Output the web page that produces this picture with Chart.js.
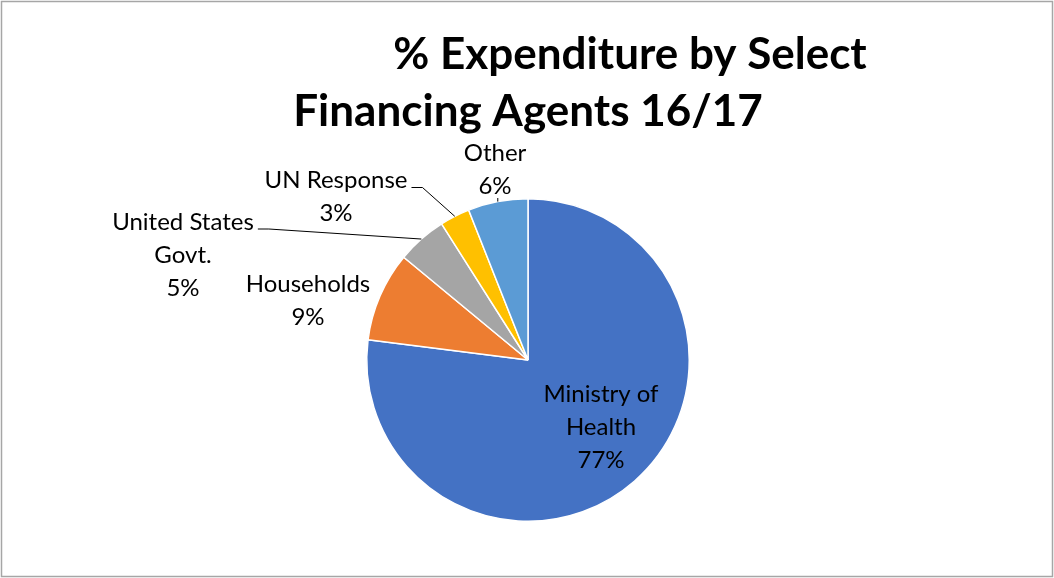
<!DOCTYPE html>
<html>
<head>
<meta charset="utf-8">
<script src="https://cdn.jsdelivr.net/npm/chart.js@4.4.1/dist/chart.umd.min.js"></script>
<style>
html,body{margin:0;padding:0;background:#fff;}
#wrap{width:1054px;height:578px;position:relative;}
</style>
</head>
<body>
<div id="wrap"><canvas id="pie" width="1054" height="578"></canvas></div>
<script>
// data
const categories=['Ministry of Health','Households','United States Govt.','UN Response','Other'];
const shares=[77,9,5,3,6];
const titleLines=['% Expenditure by Select','Financing Agents 16/17'];

// look
const sliceColors=['#4472C4','#ED7D31','#A5A5A5','#FFC000','#5B9BD5'];
const FONT='Lato, "Open Sans", sans-serif';
const LBL_SIZE=24, LBL_LH=33;
// label block centre as offset from pie centre; leader = 'side' | 'below' | null
const lblCfg=[
  {wrap:['Ministry of','Health'],dx:73,dy:67,leader:null},
  {wrap:['Households'],dx:-220,dy:-59,leader:null},
  {wrap:['United States','Govt.'],dx:-345,dy:-105,leader:'side'},
  {wrap:['UN Response'],dx:-192,dy:-163,leader:'side'},
  {wrap:['Other'],dx:-33,dy:-190,leader:'below'}
];
// title: line centre x + baseline y
const titleCfg=[{x:630,y:69},{x:528,y:126}];

const decor={
  id:'decor',
  afterDraw(c){
    const ctx=c.ctx;
    ctx.save();
    // frame
    ctx.strokeStyle='#a6a6a6';ctx.lineWidth=1.5;
    ctx.strokeRect(1.5,1.5,c.width-3,c.height-3);
    // title
    ctx.fillStyle='#000';ctx.textAlign='center';ctx.textBaseline='alphabetic';
    ctx.font='bold 44px '+FONT;
    titleLines.forEach((t,i)=>ctx.fillText(t,titleCfg[i].x,titleCfg[i].y));
    // slice labels
    const meta=c.getDatasetMeta(0);
    ctx.font=LBL_SIZE+'px '+FONT;ctx.textBaseline='middle';
    meta.data.forEach((arc,i)=>{
      const L=lblCfg[i];
      const lines=L.wrap.concat([shares[i]+'%']);
      const cx=arc.x+L.dx, cy=arc.y+L.dy;
      const top=cy-(lines.length-1)*LBL_LH/2;
      lines.forEach((s,k)=>ctx.fillText(s,cx,top+k*LBL_LH));
      if(!L.leader)return;
      const mid=(arc.startAngle+arc.endAngle)/2;
      const ex=arc.x+Math.cos(mid)*arc.outerRadius, ey=arc.y+Math.sin(mid)*arc.outerRadius;
      ctx.strokeStyle='#000';ctx.lineWidth=1;ctx.beginPath();
      if(L.leader==='side'){
        const sx=cx+ctx.measureText(lines[0]).width/2+4, sy=top+7;
        ctx.moveTo(sx,sy);ctx.lineTo(sx+11,sy);ctx.lineTo(ex,ey);
      }else{
        const by=top+(lines.length-1)*LBL_LH+LBL_LH/2-5;
        ctx.moveTo(ex,by);ctx.lineTo(ex,ey);
      }
      ctx.stroke();
    });
    ctx.restore();
  }
};

new Chart(document.getElementById('pie'),{
  type:'pie',
  data:{labels:categories,datasets:[{data:shares,backgroundColor:sliceColors,borderColor:'#fff',borderWidth:1.5}]},
  options:{
    responsive:false,animation:false,
    layout:{padding:{left:366,right:364,top:198,bottom:56}},
    plugins:{legend:{display:false},title:{display:false},tooltip:{enabled:false}}
  },
  plugins:[decor]
});
</script>
</body>
</html>
